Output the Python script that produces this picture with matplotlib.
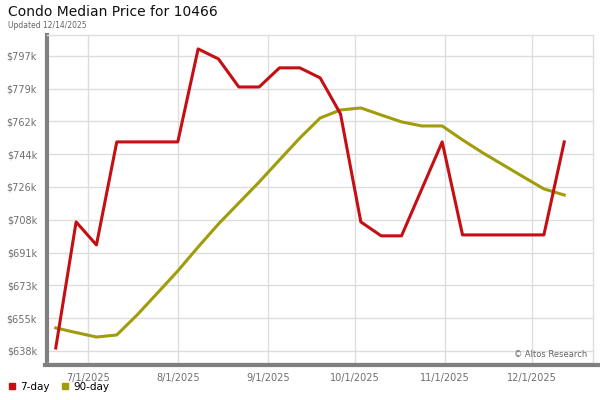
import matplotlib
matplotlib.use('Agg')
import matplotlib.pyplot as plt
from matplotlib.lines import Line2D
import pandas as pd

# weekly points, Fridays
dates = pd.date_range('2025-06-20', '2025-12-12', freq='7D')

day7 = [639.6, 707.5, 695.1, 750.6, 750.6, 750.6, 750.6, 800.7, 795.3, 780.2,
        780.2, 790.5, 790.5, 785.1, 765.7, 707.5, 700.0, 700.0, 725.3, 750.6,
        700.5, 700.5, 700.5, 700.5, 700.5, 750.6]
day90 = [650.4, 647.9, 645.5, 646.6, 657.4, 669.2, 681.1, 694.0, 706.4, 717.7,
         729.0, 740.9, 752.7, 763.5, 767.8, 768.9, 765.1, 761.4, 759.2, 759.2,
         751.7, 744.7, 738.2, 731.7, 725.3, 722.0]

ytick_labels = ['$638k', '$655k', '$673k', '$691k', '$708k',
                '$726k', '$744k', '$762k', '$779k', '$797k']
xtick_dates = ['2025-07-01', '2025-08-01', '2025-09-01',
               '2025-10-01', '2025-11-01', '2025-12-01']
xtick_labels = ['7/1/2025', '8/1/2025', '9/1/2025', '10/1/2025', '11/1/2025', '12/1/2025']

red = '#c40f14'
olive = '#a09c0c'

fig = plt.figure(figsize=(6, 4), dpi=100)
ax = fig.add_axes([0.078, 0.0925, 0.91, 0.82])

ax.plot(dates, day7, color=red, linewidth=2.2, zorder=3)
ax.plot(dates, day90, color=olive, linewidth=2.2, zorder=2)

step = (797 - 638) / 9
ax.set_yticks([638 + i * step for i in range(10)])
ax.set_yticklabels(ytick_labels)
ax.set_ylim(631.5, 808.2)

ax.set_xticks(pd.to_datetime(xtick_dates))
ax.set_xticklabels(xtick_labels)
ax.set_xlim(pd.Timestamp('2025-06-16 22:00'), pd.Timestamp('2025-12-21 20:00'))

ax.grid(color='#dddddd', linewidth=1)
ax.set_axisbelow(True)
ax.tick_params(length=0, labelsize=7, labelcolor='#6e6e6e', pad=7)

for s in ax.spines.values():
    s.set_color('#dddddd')
    s.set_linewidth(1)
ax.spines['left'].set_color('#808080')
ax.spines['left'].set_linewidth(3)

# gray bottom bar that runs on past the plot area
fig.add_artist(Line2D([0.075, 0.998], [0.0875, 0.0875], color='#808080', linewidth=3,
                      transform=fig.transFigure))

ax.text(0.99, 0.012, '\u00a9 Altos Research', transform=ax.transAxes,
        ha='right', va='bottom', fontsize=6, color='#666666')

fig.text(0.013, 0.97, 'Condo Median Price for 10466', fontsize=10, va='center', color='#111111')
fig.text(0.013, 0.937, 'Updated 12/14/2025', fontsize=5.5, va='center', color='#666666')

handles = [Line2D([], [], marker='s', linestyle='none', color=red, markersize=5),
           Line2D([], [], marker='s', linestyle='none', color=olive, markersize=5)]
fig.legend(handles, ['7-day', '90-day'], loc='lower left', bbox_to_anchor=(-0.005, -0.003),
           ncol=2, frameon=False, fontsize=7.5, handletextpad=0.3, columnspacing=1.0,
           handlelength=1.0)

fig.savefig('out.png', dpi=100)
